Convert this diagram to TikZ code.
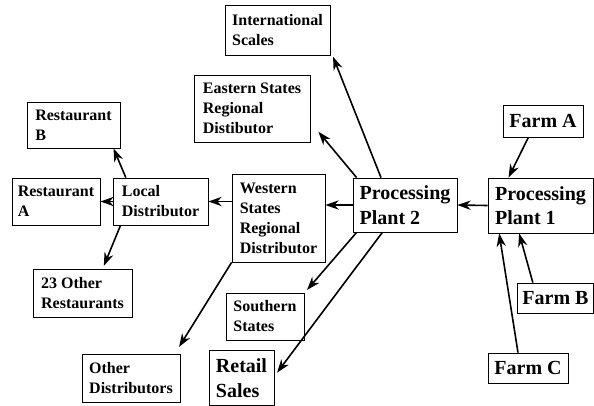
\documentclass[tikz,border=0pt]{standalone}
\usepackage{fontspec}
\setmainfont{Liberation Serif}
\usetikzlibrary{arrows.meta, positioning, calc}
\tikzset{
	box/.style   ={rectangle, draw=black, line width=0.6pt, align=left, inner sep=3pt, font=\bfseries\fontsize{12}{15}\selectfont},
	bigbox/.style={box, font=\bfseries\fontsize{15}{18.5}\selectfont},
	flow/.style  ={-{Stealth[length=10pt, width=7pt]}, line width=1.2pt},
}

\begin{document}
\begin{tikzpicture}[x=0.75pt, y=-0.75pt]
	\useasboundingbox (0,0) rectangle (594,405);
	% plants and farms
	\node[bigbox, minimum width=78.75pt, minimum height=41.25pt] (pp1) at (540.5,205.5) {Processing\\Plant 1};
	\node[bigbox, minimum width=78pt, minimum height=40.5pt] (pp2) at (405,205) {Processing\\Plant 2};
	\node[bigbox, minimum width=60pt, minimum height=24pt] (farmA) at (543,121) {Farm A};
	\node[bigbox, minimum width=57pt, minimum height=22.5pt] (farmB) at (555.5,298) {Farm B};
	\node[bigbox, minimum width=60pt, minimum height=22.5pt] (farmC) at (528,368) {Farm C};
	% distribution
	\node[box, minimum width=78.75pt, minimum height=37.5pt] (intl) at (277.5,30) {International\\Scales};
	\node[box, minimum width=87pt, minimum height=50.25pt] (east) at (252,108.5) {Eastern States\\Regional\\Distibutor};
	\node[box, minimum width=69.75pt, minimum height=66pt] (west) at (278.5,218) {Western\\States\\Regional\\Distributor};
	\node[box, minimum width=58.5pt, minimum height=35.25pt] (south) at (265,316.5) {Southern\\States};
	\node[bigbox, minimum width=48.75pt, minimum height=41.25pt] (retail) at (241.5,378) {Retail\\Sales};
	\node[box, minimum width=73.5pt, minimum height=36pt] (otherD) at (131,378) {Other\\Distributors};
	\node[box, minimum width=71.25pt, minimum height=35.25pt] (local) at (160.5,201.5) {Local\\Distributor};
	\node[box, minimum width=66pt, minimum height=35.25pt] (restA) at (56,201.5) {Restaurant\\A};
	\node[box, minimum width=69.75pt, minimum height=34.5pt] (restB) at (73.5,125) {Restaurant\\B};
	\node[box, minimum width=74.25pt, minimum height=36pt] (other23) at (82.5,293) {23 Other\\Restaurants};

	% into plant 1
	\draw[flow] ([xshift=-11pt]farmA.south) -- ([xshift=-24pt]pp1.north);
	\draw[flow] ([xshift=-17pt]farmB.north) -- ([xshift=-16pt]pp1.south);
	\draw[flow] ([xshift=-7.5pt]farmC.north) -- ([xshift=-31pt]pp1.south);
	\draw[flow] (pp1.west) -- (pp2.east);
	% out of plant 2
	\draw[flow] (pp2.west) -- (pp2.west -| west.east);
	\draw[flow] ([xshift=3pt]pp2.north west) -- ([xshift=6pt, yshift=8pt]east.south east);
	\draw[flow] ([xshift=-18pt]pp2.north) -- ([xshift=2pt, yshift=-1pt]intl.south east);
	\draw[flow] ([xshift=3pt]pp2.south west) -- ([xshift=2pt, yshift=2pt]south.north east);
	\draw[flow] ([xshift=-17pt]pp2.south) -- ([xshift=2pt, yshift=4pt]retail.east);
	% western and local
	\draw[flow] (local.east -| west.west) -- (local.east);
	\draw[flow] (west.south west) -- ([xshift=-1pt, yshift=5pt]otherD.north east);
	\draw[flow] (local.west) -- (restA.east);
	\draw[flow] ([xshift=-26pt]local.north) -- ([xshift=30pt]restB.south);
	\draw[flow] ([xshift=-30pt]local.south) -- ([xshift=16pt, yshift=2pt]other23.north);
\end{tikzpicture}
\end{document}
